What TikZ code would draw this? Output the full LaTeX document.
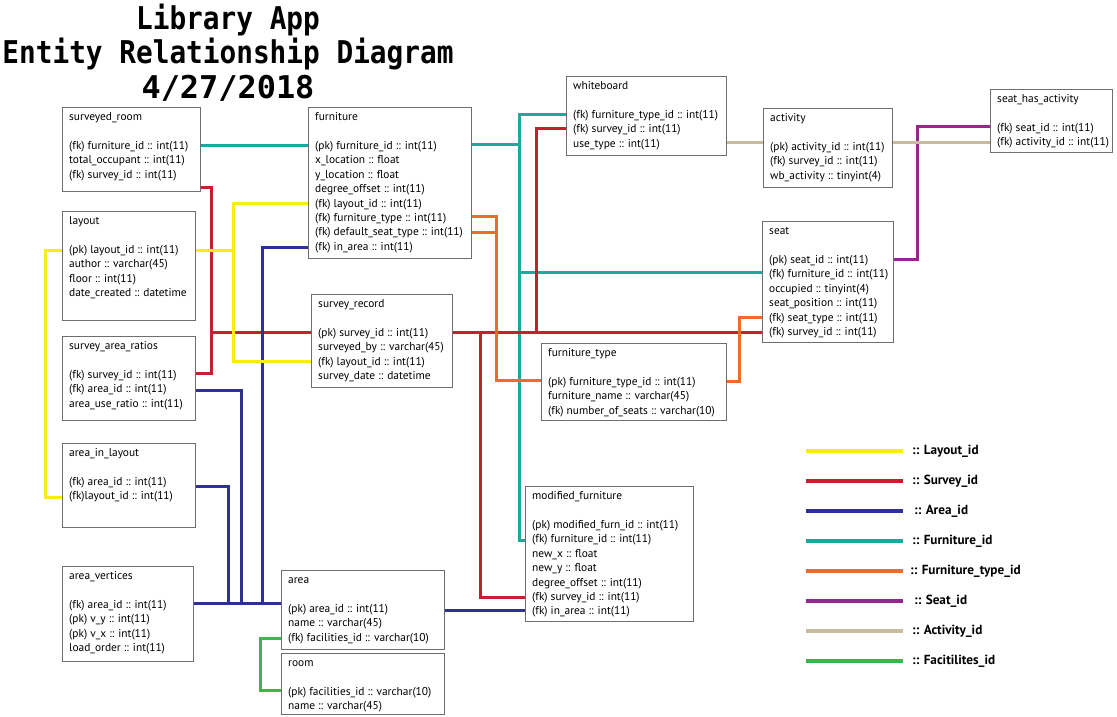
\documentclass[tikz,border=0pt]{standalone}
\usepackage{fontspec}
\usepackage{graphicx}
\setmainfont{PT Sans}
\newfontfamily\titlefont{DejaVu Sans Mono}
\definecolor{boxgray}{HTML}{6D6E70}
\definecolor{cLy}{HTML}{F7EC13}
\definecolor{cSv}{HTML}{C42030}
\definecolor{cAr}{HTML}{2E3192}
\definecolor{cFu}{HTML}{1BA99C}
\definecolor{cFt}{HTML}{F26A2A}
\definecolor{cSe}{HTML}{93278F}
\definecolor{cAc}{HTML}{C9BA9B}
\definecolor{cFa}{HTML}{3DB54A}
\pgfdeclarelayer{bottom}
\pgfdeclarelayer{background}
\pgfsetlayers{bottom,background,main}
\tikzset{
  ent/.style={draw=boxgray, line width=1.1pt, fill=white, anchor=north west, inner sep=0pt},
  etext/.style={anchor=north west, inner sep=0pt, align=left, font=\fontsize{11.4}{14.4}\selectfont},
  conn/.style={line width=3pt},
  legline/.style={line width=3.5pt},
  legtxt/.style={anchor=west, inner sep=0pt, font=\fontsize{13.2}{15}\selectfont\bfseries},
  ttl/.style={anchor=base, inner sep=0pt, font=\fontsize{27.75}{30}\titlefont\bfseries}
}
\newcommand{\entbox}[7]{%
  \node[ent, minimum width=#4pt, minimum height=#5pt] (#1) at (#2,#3) {};
  \node[etext] (#1-t) at ([xshift=7pt,yshift=-3.5pt]#1.north west) {\strut #6\\[14.4pt]#7};
}
\begin{document}
\begin{tikzpicture}[x=1pt,y=-1pt]
\useasboundingbox (0,0) rectangle (1117,716);
\begin{pgfonlayer}{bottom}
\fill[white] (0,0) rectangle (1117,716);
\end{pgfonlayer}

% title
\node[ttl] (t1) at (228,29) {\scalebox{1}[1.13]{Library App}};
\node[ttl] (t2) at (228,63) {\scalebox{1}[1.13]{Entity Relationship Diagram}};
\node[ttl] (t3) at (228,98) {\scalebox{1.15}[1.13]{4/27/2018}};

% entities
\entbox{sroom}{62}{107}{138}{84}{surveyed\_room}{(fk) furniture\_id :: int(11)\\total\_occupant :: int(11)\\(fk) survey\_id :: int(11)}
\entbox{layout}{62}{211}{133}{109}{layout}{(pk) layout\_id :: int(11)\\author :: varchar(45)\\floor :: int(11)\\date\_created :: datetime}
\entbox{sar}{62}{336}{133}{84}{survey\_area\_ratios}{(fk) survey\_id :: int(11)\\(fk) area\_id :: int(11)\\area\_use\_ratio :: int(11)}
\entbox{ail}{62}{443}{133}{84}{area\_in\_layout}{(fk) area\_id :: int(11)\\(fk)layout\_id :: int(11)}
\entbox{av}{62}{566}{131}{95}{area\_vertices}{(fk) area\_id :: int(11)\\(pk) v\_y :: int(11)\\(pk) v\_x :: int(11)\\load\_order :: int(11)}
\entbox{furn}{308}{107}{163}{151}{furniture}{(pk) furniture\_id :: int(11)\\x\_location :: float\\y\_location :: float\\degree\_offset :: int(11)\\(fk) layout\_id :: int(11)\\(fk) furniture\_type :: int(11)\\(fk) default\_seat\_type :: int(11)\\(fk) in\_area :: int(11)}
\entbox{srec}{311}{294}{141}{93}{survey\_record}{(pk) survey\_id :: int(11)\\surveyed\_by :: varchar(45)\\(fk) layout\_id :: int(11)\\survey\_date :: datetime}
\entbox{wb}{566}{76}{160}{79}{whiteboard}{(fk) furniture\_type\_id :: int(11)\\(fk) survey\_id :: int(11)\\use\_type :: int(11)}
\entbox{act}{763}{108}{129}{79}{activity}{(pk) activity\_id :: int(11)\\(fk) survey\_id :: int(11)\\wb\_activity :: tinyint(4)}
\entbox{sha}{990}{89}{122}{63}{seat\_has\_activity}{(fk) seat\_id :: int(11)\\(fk) activity\_id :: int(11)}
\entbox{seat}{762}{221}{131}{121}{seat}{(pk) seat\_id :: int(11)\\(fk) furniture\_id :: int(11)\\occupied :: tinyint(4)\\seat\_position :: int(11)\\(fk) seat\_type :: int(11)\\(fk) survey\_id :: int(11)}
\entbox{ftype}{541}{343}{185}{77}{furniture\_type}{(pk) furniture\_type\_id :: int(11)\\furniture\_name :: varchar(45)\\(fk) number\_of\_seats :: varchar(10)}
\entbox{modf}{525}{486}{168}{135}{modified\_furniture}{(pk) modified\_furn\_id :: int(11)\\(fk) furniture\_id :: int(11)\\new\_x :: float\\new\_y :: float\\degree\_offset :: int(11)\\(fk) survey\_id :: int(11)\\(fk) in\_area :: int(11)}
\entbox{area}{281}{570}{163}{79}{area}{(pk) area\_id :: int(11)\\name :: varchar(45)\\(fk) facilities\_id :: varchar(10)}
\entbox{room}{281}{653}{163}{61}{room}{(pk) facilities\_id :: varchar(10)\\name :: varchar(45)}

\begin{pgfonlayer}{background}
% furniture id (teal)
\draw[conn,cFu] (sroom.east|-0,145) -- (furn.west|-0,145);
\draw[conn,cFu] (furn.east|-0,144) -- (519,144);
\draw[conn,cFu] (wb.west|-0,114) -| (519,540) -- (modf.west|-0,540);
\draw[conn,cFu] (519,272) -- (seat.west|-0,272);
% survey id (red)
\draw[conn,cSv] (sroom.east|-0,187) -| (211,373) -- (sar.east|-0,373);
\draw[conn,cSv] (211,332) -- (srec.west|-0,332);
\draw[conn,cSv] (srec.east|-0,332) -- (seat.west|-0,332);
\draw[conn,cSv] (480,332) |- (modf.west|-0,597);
\draw[conn,cSv] (536,332) |- (wb.west|-0,128);
% area id (blue)
\draw[conn,cAr] (av.east|-0,603) -- (area.west|-0,603);
\draw[conn,cAr] (furn.west|-0,247) -| (262,603);
\draw[conn,cAr] (sar.east|-0,390) -| (241,603);
\draw[conn,cAr] (ail.east|-0,486) -| (228,603);
\draw[conn,cAr] (area.east|-0,610) -- (modf.west|-0,610);
% layout id (yellow)
\draw[conn,cLy] (layout.west|-0,250) -| (45,497) -- (ail.west|-0,497);
\draw[conn,cLy] (layout.east|-0,250) -- (233,250);
\draw[conn,cLy] (furn.west|-0,203) -| (233,361) -- (srec.west|-0,361);
% furniture type (orange)
\draw[conn,cFt] (furn.east|-0,216) -| (496,380) -- (ftype.west|-0,380);
\draw[conn,cFt] (furn.east|-0,232) -- (496,232);
\draw[conn,cFt] (ftype.east|-0,381) -| (739,317) -- (seat.west|-0,317);
% seat id (purple)
\draw[conn,cSe] (seat.east|-0,259) -| (917,126) -- (sha.west|-0,126);
% activity id (tan)
\draw[conn,cAc] (wb.east|-0,142) -- (act.west|-0,142);
\draw[conn,cAc] (act.east|-0,142) -- (sha.west|-0,142);
% facilities id (green)
\draw[conn,cFa] (area.west|-0,638) -| (260,690) -- (room.west|-0,690);
\end{pgfonlayer}

% legend
\foreach \i/\c/\t/\dx in {1/cLy/Layout\_id/0, 2/cSv/Survey\_id/0, 3/cAr/Area\_id/2, 4/cFu/Furniture\_id/0, 5/cFt/Furniture\_type\_id/-2, 6/cSe/Seat\_id/2, 7/cAc/Activity\_id/0, 8/cFa/Facitilites\_id/0}{
  \coordinate (ls\i) at (806,421+30*\i);
  \coordinate (le\i) at (903,421+30*\i);
  \draw[legline,\c] (ls\i) -- (le\i);
  \node[legtxt] (lt\i) at (912+\dx,421+30*\i) {:: \t};
}
\end{tikzpicture}
\end{document}
